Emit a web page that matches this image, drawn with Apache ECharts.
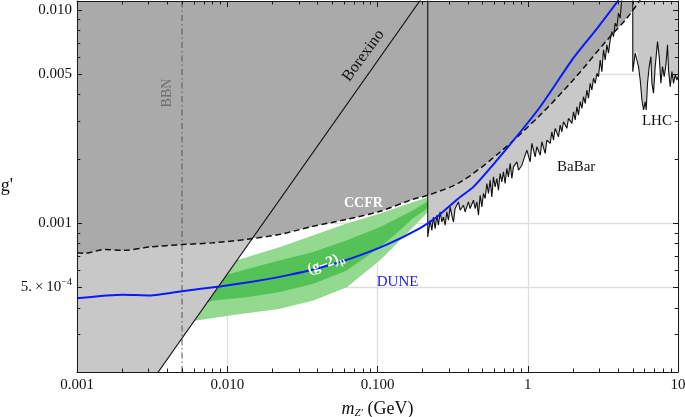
<!DOCTYPE html>
<html><head><meta charset="utf-8">
<script src="https://cdn.jsdelivr.net/npm/echarts@6/dist/echarts.min.js"></script>
<style>html,body{margin:0;padding:0;background:#fff}#c{width:685px;height:417px}</style>
</head><body><div id="c"></div>
<script>
// ---------- data (m_Z' in GeV, g') ----------
const xRange = [0.001, 10];
const yRange = [0.0002, 0.011];
const xMajor = [0.001, 0.01, 0.1, 1, 10];
const xMajorLabels = ['0.001', '0.010', '0.100', '1', '10'];
const yMajor = [0.0005, 0.001, 0.005, 0.01];
const yMajorLabels = ['{m|5.\u2009×\u200910}{s|−4}', '0.001', '0.005', '0.010'];

const borexino = [[0.001, 5.76e-5], [0.2, 0.01152]];
const bbnMass = 0.005;

const ccfr = [[0.001,7.26e-4],[0.00113,7.21e-4],[0.00154,7.52e-4],[0.00203,7.44e-4],[0.00306,7.72e-4],
  [0.0050,7.92e-4],[0.00804,8.07e-4],[0.01355,8.39e-4],[0.02247,8.85e-4],[0.0373,9.65e-4],[0.0628,1.041e-3],
  [0.1041,1.135e-3],[0.1726,1.293e-3],[0.2173,1.350e-3],[0.3548,1.554e-3],[0.6548,2.150e-3],[1.210,3.209e-3],
  [2.006,4.686e-3],[3.379,7.228e-3],[4.591,9.17e-3],[5.604,1.114e-2]];

const dune = [[0.001,4.44e-4],[0.00202,4.61e-4],[0.00306,4.57e-4],[0.0050,4.79e-4],[0.00895,5.04e-4],
  [0.01493,5.32e-4],[0.0249,5.68e-4],[0.0415,6.17e-4],[0.0691,6.88e-4],[0.1153,7.91e-4],[0.192,9.47e-4],
  [0.248,1.067e-3],[0.355,1.325e-3],[0.435,1.477e-3],[0.726,2.24e-3],[1.21,3.51e-3],[2.01,5.93e-3],
  [2.88,8.14e-3],[4.02,1.11e-2]];

const babar = [[0.216,0.0125],[0.216,8.60e-4],[0.2240,1.030e-3],[0.2299,9.24e-4],[0.2357,1.067e-3],
  [0.2419,9.41e-4],[0.2483,1.087e-3],[0.2544,9.76e-4],[0.2612,1.127e-3],[0.2681,1.011e-3],[0.2747,1.067e-3],
  [0.2819,9.76e-4],[0.2893,1.127e-3],[0.2966,1.030e-3],[0.3044,1.189e-3],[0.3124,1.087e-3],[0.3202,1.011e-3],
  [0.3286,1.169e-3],[0.3456,1.256e-3],[0.3548,1.148e-3],[0.3733,1.212e-3],[0.3832,1.127e-3],[0.4030,1.256e-3],
  [0.4136,1.169e-3],[0.4351,1.279e-3],[0.4466,1.169e-3],[0.4584,1.256e-3],[0.4698,1.087e-3],[0.4822,1.350e-3],
  [0.4949,1.189e-3],[0.5072,1.375e-3],[0.5206,1.303e-3],[0.5343,1.532e-3],[0.5476,1.375e-3],[0.5620,1.588e-3],
  [0.5768,1.326e-3],[0.5909,1.645e-3],[0.6067,1.476e-3],[0.6226,1.617e-3],[0.6381,1.425e-3],[0.6548,1.707e-3],
  [0.6721,1.559e-3],[0.6888,1.737e-3],[0.7070,1.532e-3],[0.7257,1.802e-3],[0.7438,1.645e-3],[0.7637,1.903e-3],
  [0.7839,1.617e-3],[0.8033,1.834e-3],[0.8465,1.936e-3],[0.8673,1.769e-3],[0.9138,1.867e-3],[0.9865,2.197e-3],
  [1.038,1.936e-3],[1.065,2.362e-3],[1.120,2.044e-3],[1.150,2.277e-3],[1.210,2.082e-3],[1.242,2.403e-3],
  [1.306,2.120e-3],[1.341,2.448e-3],[1.410,2.362e-3],[1.447,2.678e-3],[1.483,2.448e-3],[1.522,2.779e-3],
  [1.601,2.537e-3],[1.644,2.880e-3],[1.687,2.678e-3],[1.729,2.985e-3],[1.822,2.779e-3],[1.867,3.097e-3],
  [1.967,2.934e-3],[2.016,3.325e-3],[2.069,3.041e-3],[2.123,3.511e-3],[2.176,3.209e-3],[2.234,3.706e-3],
  [2.293,3.450e-3],[2.350,3.912e-3],[2.412,3.642e-3],[2.475,4.206e-3],[2.537,3.845e-3],[2.603,4.521e-3],
  [2.672,4.206e-3],[2.739,4.773e-3],[2.811,4.521e-3],[2.885,5.039e-3],[2.957,4.857e-3],[3.034,5.818e-3],
  [3.114,5.128e-3],[3.192,6.486e-3],[3.277,5.818e-3],[3.363,6.847e-3],[3.447,6.257e-3],[3.538,7.228e-3],
  [3.631,7.907e-3],[3.722,7.491e-3],[3.819,8.659e-3],[3.920,8.347e-3],[4.018,9.649e-3],[4.124,9.142e-3],
  [4.233,1.15e-2]];

const lhc = [[5.0,0.0125],[5.0,5.128e-3],[5.19,6.257e-3],[5.327,6.368e-3],[5.46,5.413e-3],[5.604,4.686e-3],
  [5.752,3.775e-3],[5.896,3.388e-3],[6.049,3.706e-3],[6.143,3.388e-3],[6.267,4.521e-3],[6.432,5.413e-3],
  [6.601,6.032e-3],[6.704,4.521e-3],[6.871,4.058e-3],[7.052,5.413e-3],[7.305,7.096e-3],[7.499,6.032e-3],
  [7.697,4.521e-3],[7.887,5.413e-3],[8.095,4.857e-3],[8.309,5.513e-3],[8.516,6.847e-3],[8.648,5.223e-3],
  [8.876,4.358e-3],[9.11,5.128e-3],[9.338,4.521e-3],[9.583,4.947e-3],[9.835,4.686e-3],[10,4.857e-3]];

const g2LightUpper = [[0.00659,5.87e-4],[0.01157,6.68e-4],[0.02247,7.72e-4],[0.03745,8.76e-4],[0.06246,9.94e-4],
  [0.1041,1.107e-3],[0.1734,1.256e-3],[0.216,1.321e-3]];
const g2LightLower = [[0.00524,3.42e-4],[0.00626,3.49e-4],[0.01044,3.68e-4],[0.02247,3.96e-4],[0.03745,4.33e-4],
  [0.06246,5.00e-4],[0.1041,6.68e-4],[0.1567,8.92e-4],[0.216,1.123e-3]];
const g2DarkUpper = [[0.00659,5.10e-4],[0.01044,5.78e-4],[0.02247,6.68e-4],[0.03745,7.31e-4],[0.06246,8.29e-4],
  [0.1041,9.58e-4],[0.1734,1.148e-3],[0.216,1.265e-3]];
const g2DarkLower = [[0.00659,4.15e-4],[0.00808,4.33e-4],[0.01349,4.49e-4],[0.02247,4.74e-4],[0.03745,5.19e-4],
  [0.06246,5.99e-4],[0.1041,7.72e-4],[0.1414,9.24e-4],[0.1726,1.052e-3],[0.216,1.173e-3]];

const labelTexts = ['BBN', 'Borexino', 'CCFR', '{a|(g–2)}{b|μ}', 'DUNE', 'BaBar', 'LHC'];
const labelAnchors = [[0.0040,0.00407],[0.0806,0.0061],[0.0806,0.001234],[0.0453,0.000645],[0.1361,0.000526],[2.10,0.001828],[7.24,0.003008]];

// ---------- chart ----------
const L = Math.log10;
const toL = pts => pts.map(p => [L(p[0]), L(p[1])]);
const FONT = "'Liberation Serif','DejaVu Serif',serif";
const TOP = 0.0125;
const xMinor = []; [0.001,0.01,0.1,1].forEach(d => { for (let k = 2; k <= 9; k++) xMinor.push(k*d); });
const yMinor = []; [0.0001,0.001].forEach(d => { for (let k = 2; k <= 9; k++) if (k !== 5) yMinor.push(k*d); });

const xmin = L(xRange[0]), xmax = L(xRange[1]), ymin = L(yRange[0]), ymax = L(yRange[1]);
const lab = (vals, labels) => { const m = {}; vals.forEach((v,i) => { m[Math.round(L(v)*1e4)] = labels[i]; }); return v => m[Math.round(v*1e4)] || ''; };

function tickAxis(dim, position, vals, len, line) {
  return { type:'value', position, z:20, min: dim==='x'?xmin:ymin, max: dim==='x'?xmax:ymax,
    axisLine:{show:line, onZero:false, lineStyle:{color:'#1a1a1a', width:1}},
    axisTick:{show:true, inside:true, length:len, customValues: vals.map(L), lineStyle:{color:'#1a1a1a', width:1}},
    axisLabel:{show:false}, splitLine:{show:false} };
}

const xAxes = [
  { type:'value', position:'bottom', z:0, min:xmin, max:xmax,
    axisLine:{show:false, onZero:false},
    axisTick:{show:true, length:0, customValues: xMajor.map(L), lineStyle:{color:'rgba(0,0,0,0)'}},
    axisLabel:{show:true, customValues: xMajor.map(L), formatter: lab(xMajor, xMajorLabels), margin:6,
      showMinLabel:true, showMaxLabel:true, color:'#111', fontSize:15, fontFamily:FONT},
    splitLine:{show:true, lineStyle:{color:'#dedede', width:1.3}},
    name:'{i|m}{s|Z′}{n| (GeV)}', nameLocation:'middle', nameGap:27,
    nameTextStyle:{ rich:{ i:{fontFamily:FONT, fontStyle:'italic', fontSize:18, lineHeight:20, verticalAlign:'middle', color:'#111'},
      s:{fontFamily:FONT, fontStyle:'italic', fontSize:11, verticalAlign:'bottom', color:'#111'},
      n:{fontFamily:FONT, fontSize:18, lineHeight:20, verticalAlign:'middle', color:'#111'} } } },
  tickAxis('x','bottom', xMajor, 6, true),
  tickAxis('x','bottom', xMinor, 3.5, false),
  tickAxis('x','top', xMajor, 6, true),
  tickAxis('x','top', xMinor, 3.5, false)
];
const yAxes = [
  { type:'value', position:'left', z:0, min:ymin, max:ymax,
    axisLine:{show:false, onZero:false},
    axisTick:{show:true, length:0, customValues: yMajor.map(L), lineStyle:{color:'rgba(0,0,0,0)'}},
    axisLabel:{show:true, customValues: yMajor.map(L), formatter: lab(yMajor, yMajorLabels), margin:5,
      showMinLabel:true, showMaxLabel:true, color:'#111', fontSize:15, fontFamily:FONT,
      rich:{ m:{fontSize:15, fontFamily:FONT, lineHeight:20, verticalAlign:'middle', color:'#111'},
             s:{fontSize:10, fontFamily:FONT, verticalAlign:'top', color:'#111'} } },
    splitLine:{show:true, lineStyle:{color:'#dedede', width:1.3}},
    name:"g'", nameLocation:'middle', nameRotate:0, nameGap:64,
    nameTextStyle:{fontFamily:FONT, fontSize:18, color:'#111'} },
  tickAxis('y','left', yMajor, 5, true),
  tickAxis('y','left', yMinor, 3.3, false),
  tickAxis('y','right', yMajor, 5, true),
  tickAxis('y','right', yMinor, 3.3, false)
];

function poly(pts, color, z) {
  return { type:'custom', z, clip:true, silent:true, animation:false, xAxisIndex:0, yAxisIndex:0,
    data:[[xmin, ymin]],
    renderItem(params, api) {
      const cs = params.coordSys;
      return { type:'polygon', shape:{ points: toL(pts).map(p => api.coord(p)) },
        style:{ fill: color, stroke: null },
        clipPath:{ type:'rect', shape:{ x:cs.x, y:cs.y, width:cs.width, height:cs.height } } };
    } };
}
function line(pts, style, z, smooth) {
  return { type:'line', z, data: toL(pts), showSymbol:false, symbol:'none', clip:true, silent:true,
    animation:false, smooth: smooth || false, lineStyle: style, xAxisIndex:0, yAxisIndex:0 };
}

const lightGrey = '#c8c8c8', darkGrey = '#aaaaaa';
const series = [
  poly(g2LightUpper.concat(g2LightLower.slice().reverse()), '#93d98f', 2),
  poly(g2DarkUpper.concat(g2DarkLower.slice().reverse()), '#55c257', 3),
  poly(borexino.concat([[borexino[0][0], TOP]]), lightGrey, 4),
  poly(babar.concat([[babar[babar.length-1][0], TOP]]), lightGrey, 4),
  poly(ccfr.concat([[ccfr[ccfr.length-1][0], TOP], [ccfr[0][0], TOP]]), darkGrey, 5),
  poly(lhc.concat([[lhc[lhc.length-1][0], TOP]]), lightGrey, 6),
  line([[bbnMass, yRange[0]], [bbnMass, yRange[1]]], {color:'#555', width:1, type:[6,3,1.5,3]}, 7),
  line(borexino, {color:'#111', width:1.1}, 8),
  line(babar, {color:'#111', width:1.1}, 8),
  line(lhc, {color:'#111', width:1.1}, 8),
  line(ccfr, {color:'#111', width:1.5, type:[6,3.5]}, 9, 0.3),
  line(dune, {color:'#0a1aff', width:2}, 10, 0.2),
  { type:'custom', z:12, silent:true, animation:false, xAxisIndex:0, yAxisIndex:0,
    data: labelAnchors.map((a, i) => [L(a[0]), L(a[1]), i]),
    renderItem(params, api) {
      const i = api.value(2);
      const p = api.coord([api.value(0), api.value(1)]);
      const cfg = [
        {rot:90, fill:'#707070', size:14, weight:'normal'},
        {rot:54, fill:'#111', size:16, weight:'normal'},
        {rot:0, fill:'#ffffff', size:14, weight:'bold'},
        {rot:21, fill:'#ffffff', size:15, weight:'bold'},
        {rot:0, fill:'#1a1aff', size:15, weight:'normal'},
        {rot:0, fill:'#111', size:15, weight:'normal'},
        {rot:0, fill:'#111', size:15, weight:'normal'}
      ][i];
      return { type:'text', x:p[0], y:p[1], rotation: cfg.rot*Math.PI/180,
        style:{ text: labelTexts[i], fill: cfg.fill, fontSize: cfg.size, fontFamily: FONT, fontWeight: cfg.weight,
          align:'center', verticalAlign:'middle',
          rich:{ a:{fontSize:15, fontWeight:'bold', fontFamily:FONT, fill:'#fff', lineHeight:18, verticalAlign:'middle'},
                 b:{fontSize:10, fontWeight:'bold', fontFamily:FONT, fill:'#fff', verticalAlign:'bottom'} } } };
    } }
];

const chart = echarts.init(document.getElementById('c'), null, {renderer:'canvas'});
chart.setOption({
  animation:false,
  backgroundColor:'#ffffff',
  grid:{ left:77, right:7, top:1, bottom:45, containLabel:false, outerBoundsMode:'none' },
  xAxis: xAxes,
  yAxis: yAxes,
  series
});
</script></body></html>
